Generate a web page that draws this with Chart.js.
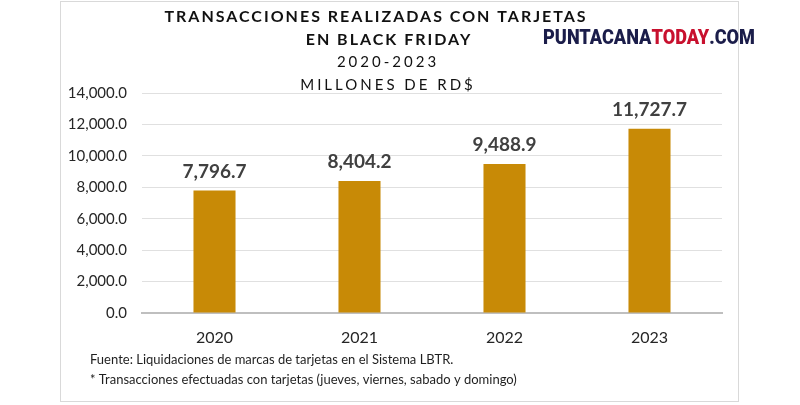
<!DOCTYPE html>
<html>
<head>
<meta charset="utf-8">
<script src="https://cdn.jsdelivr.net/npm/chart.js@4"></script>
<style>
  html, body { margin: 0; padding: 0; background: #fff; }
  #wrap { width: 800px; height: 405px; position: relative; }
</style>
</head>
<body>
<div id="wrap"><canvas id="myChart" width="800" height="405"></canvas></div>
<script>
const years = ['2020', '2021', '2022', '2023'];
const montos = [7796.7, 8404.2, 9488.9, 11727.7];
const titleLines = ['TRANSACCIONES REALIZADAS CON TARJETAS', 'EN BLACK FRIDAY', '2020-2023', 'MILLONES DE RD$'];
const notes = ['Fuente: Liquidaciones de marcas de tarjetas en el Sistema LBTR.',
               '* Transacciones efectuadas con tarjetas (jueves, viernes, sabado y domingo)'];

const FONT = 'Lato, "Open Sans", sans-serif';

function fmt(v){
    return v.toLocaleString('en-US', {minimumFractionDigits: 1, maximumFractionDigits: 1});
}

// frame, titles, value labels, notes and logo
const extras = {
    id: 'extras',
    beforeDraw(chart){
        const ctx = chart.ctx;
        ctx.save();
        ctx.fillStyle = '#fff';
        ctx.fillRect(0, 0, 800, 405);
        ctx.strokeStyle = '#d9d9d9';
        ctx.lineWidth = 1;
        ctx.strokeRect(60.5, 1.5, 678, 400);
        ctx.restore();
    },
    afterDatasetsDraw(chart){
        const ctx = chart.ctx;
        ctx.save();
        ctx.textAlign = 'center';
        ctx.textBaseline = 'middle';
        ctx.fillStyle = '#111';

        ctx.letterSpacing = '2px';
        ctx.font = 'bold 16px ' + FONT;
        ctx.fillText(titleLines[0], 376, 17);
        ctx.fillText(titleLines[1], 389, 40);
        ctx.letterSpacing = '3px';
        ctx.font = '15px ' + FONT;
        ctx.fillText(titleLines[2], 388, 62);
        ctx.fillText(titleLines[3], 388, 85);
        ctx.letterSpacing = '0px';

        // value labels
        const meta = chart.getDatasetMeta(0);
        ctx.font = 'bold 19px ' + FONT;
        ctx.fillStyle = '#404040';
        meta.data.forEach((bar, i) => {
            ctx.fillText(fmt(montos[i]), bar.x, bar.y - 19);
        });

        // notes
        ctx.textAlign = 'left';
        ctx.font = '13px ' + FONT;
        ctx.fillStyle = '#1f1f1f';
        ctx.fillText(notes[0], 90, 360);
        ctx.fillText(notes[1], 90, 380);

        // logo
        const parts = [['PUNTACANA', '#1b1d4a'], ['TODAY', '#c8102e'], ['.COM', '#1b1d4a']];
        ctx.font = '900 20px Roboto, sans-serif';
        let total = 0;
        parts.forEach(p => total += ctx.measureText(p[0]).width);
        const sx = 212 / total;
        ctx.translate(543, 39);
        ctx.scale(sx, 1.05);
        let x = 0;
        parts.forEach(p => {
            ctx.fillStyle = p[1];
            ctx.fillText(p[0], x, 0);
            x += ctx.measureText(p[0]).width;
        });
        ctx.restore();
    }
};

const ctx = document.getElementById('myChart').getContext('2d');
const myChart = new Chart(ctx, {
    type: 'bar',
    data: {
        labels: years,
        datasets: [{
            data: montos,
            backgroundColor: '#c88a06',
            barPercentage: 0.58,
            categoryPercentage: 0.5
        }]
    },
    options: {
        responsive: false,
        animation: false,
        layout: { padding: { left: 62, right: 78, top: 93, bottom: 50 } },
        plugins: {
            legend: { display: false },
            tooltip: { enabled: false }
        },
        scales: {
            x: {
                grid: { display: false },
                border: { color: '#bfbfbf', width: 2 },
                ticks: { color: '#262626', font: { family: FONT, size: 16 }, padding: 7 },
                afterFit(axis){ axis.height = 42; }
            },
            y: {
                min: 0,
                max: 14000,
                grid: { color: '#e0e0e0', drawTicks: false },
                border: { display: false },
                ticks: {
                    stepSize: 2000,
                    color: '#262626',
                    font: { family: FONT, size: 15 },
                    padding: 15,
                    callback: v => fmt(v)
                },
                afterFit(axis){ axis.width = 80; }
            }
        }
    },
    plugins: [extras]
});
</script>
</body>
</html>
